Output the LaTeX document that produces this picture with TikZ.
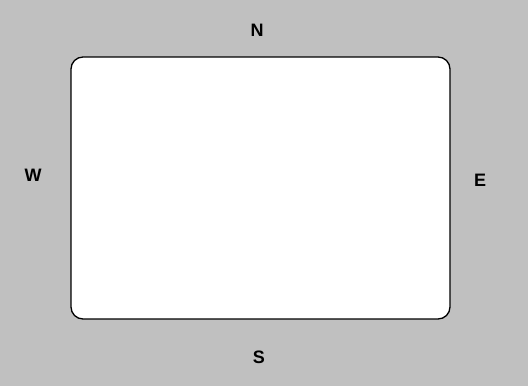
\documentclass[tikz,border=0pt]{standalone}
\usepackage{fontspec}
\setmainfont{Liberation Sans}
\definecolor{bggray}{HTML}{C0C0C0}
\begin{document}
\begin{tikzpicture}[x=1pt,y=-1pt,
  lbl/.style={font=\bfseries\fontsize{18}{18}\selectfont, inner sep=0pt, anchor=center},
  panel/.style={draw=black, line width=1.3pt, fill=white, rounded corners=12pt}]
\fill[bggray] (0,0) rectangle (528,386);
\useasboundingbox (0,0) rectangle (528,386);
\node[panel, minimum width=379pt, minimum height=262pt, inner sep=0pt] (box) at (260.5,188) {};
\node[lbl] (n) at (257,30) {N};
\node[lbl] (w) at (33,175) {W};
\node[lbl] (e) at (480,180) {E};
\node[lbl] (s) at (259,357) {S};
\end{tikzpicture}
\end{document}
